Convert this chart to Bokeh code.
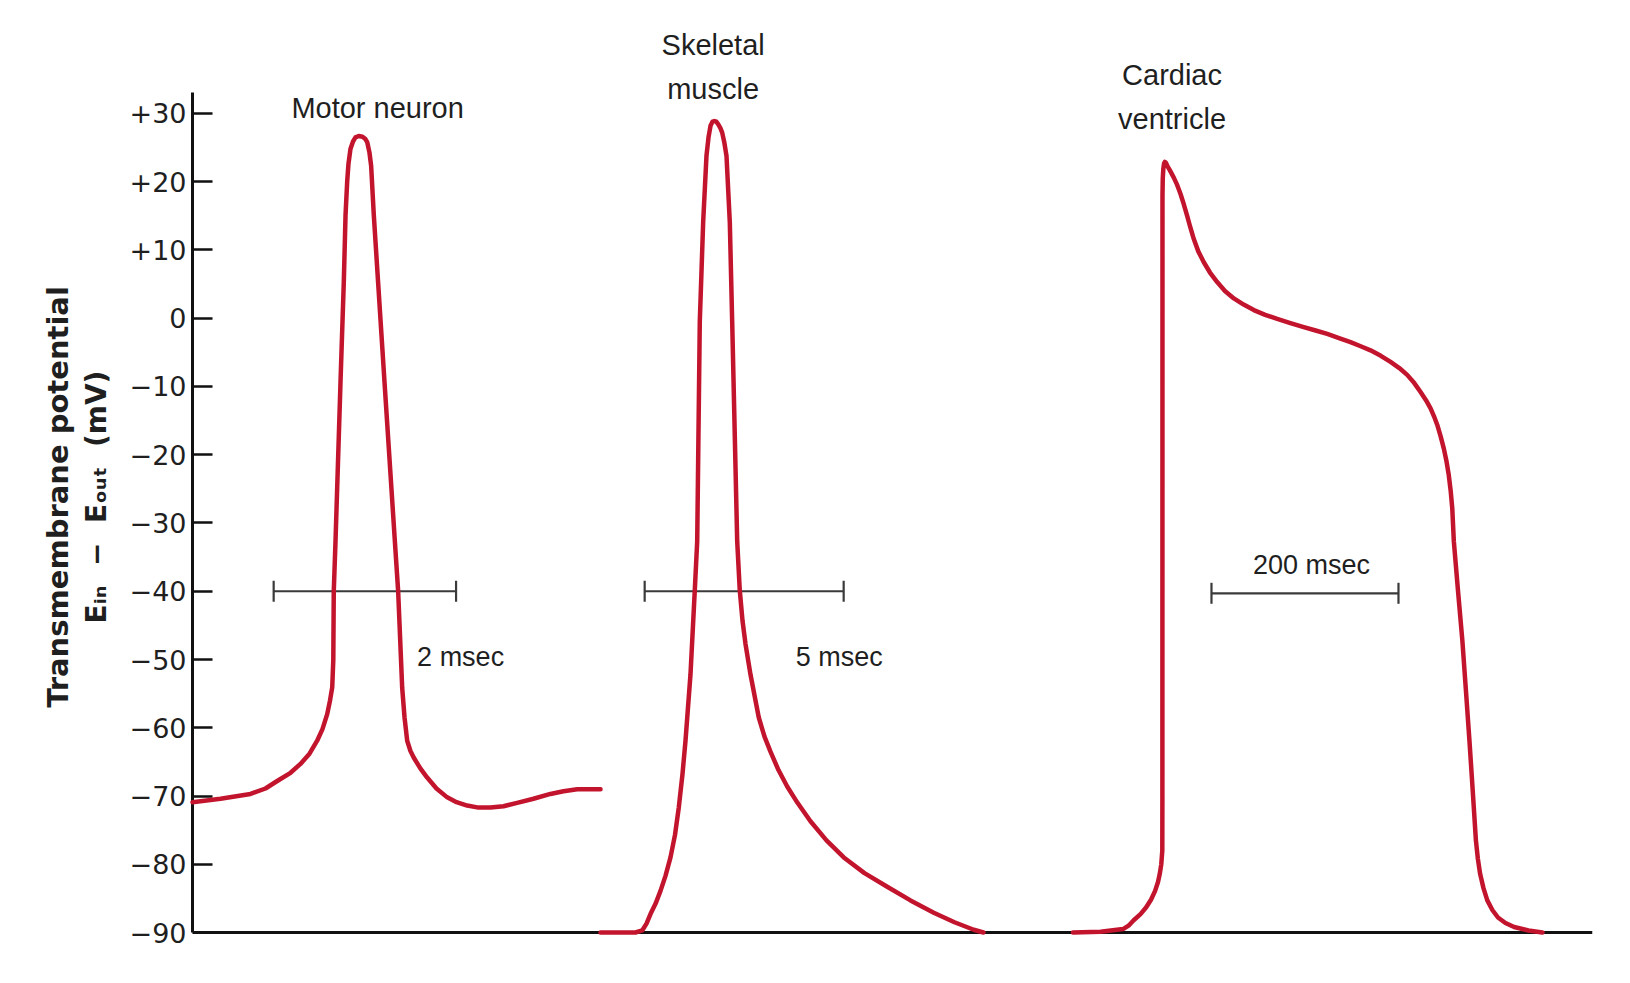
import numpy as np
from bokeh.plotting import figure
from bokeh.models import Range1d, FixedTicker, Span, Label, LinearAxis
from bokeh.embed import file_html
from bokeh.resources import INLINE

# ---------------- data ----------------
# Motor neuron action potential: time (ms), membrane potential (mV)
motor_t = [0.000, 0.307, 0.636, 0.800, 0.929, 1.075, 1.184, 1.283, 1.367, 1.425,
           1.477, 1.508, 1.532, 1.544, 1.549, 1.568, 1.623, 1.659, 1.678, 1.696,
           1.710, 1.732, 1.760, 1.787, 1.823, 1.864, 1.893, 1.916, 1.940, 1.959,
           1.988, 2.035, 2.082, 2.105, 2.219, 2.255, 2.270, 2.299, 2.325, 2.354,
           2.390, 2.427, 2.500, 2.573, 2.675, 2.793, 2.895, 3.012, 3.136, 3.268,
           3.410, 3.560, 3.739, 3.925, 4.068, 4.218, 4.474]
motor_v = [-70.9, -70.4, -69.7, -68.9, -67.8, -66.6, -65.3, -63.8, -61.9, -60.2,
           -58.0, -56.0, -54.1, -50.0, -40.0, -32.7, -9.3, 5.3, 15.1, 20.0,
           22.6, 24.8, 25.9, 26.5, 26.7, 26.6, 26.3, 25.8, 24.3, 22.3,
           15.1, 5.3, -4.5, -9.3, -32.7, -40.0, -44.8, -54.1, -58.5, -61.9,
           -63.4, -64.4, -66.0, -67.3, -68.9, -70.2, -70.9, -71.4, -71.7, -71.7,
           -71.5, -71.0, -70.4, -69.7, -69.3, -69.0, -69.0]

# Skeletal muscle action potential: time (ms), potential (mV)
skel_t = [0.000, 0.879, 1.048, 1.156, 1.256, 1.382, 1.508, 1.633, 1.759, 1.872,
          1.967, 2.060, 2.136, 2.261, 2.369, 2.430, 2.495, 2.580, 2.663, 2.714,
          2.764, 2.814, 2.864, 2.910, 2.960, 3.010, 3.058, 3.110, 3.166, 3.249,
          3.309, 3.435, 3.500, 3.568, 3.643, 3.769, 3.977, 4.121, 4.271, 4.472,
          4.691, 4.950, 5.276, 5.678, 6.113, 6.633, 7.204, 7.789, 8.374, 8.894,
          9.379, 9.623]
skel_v = [-90.0, -90.0, -89.7, -88.7, -87.3, -85.8, -83.9, -81.7, -79.0, -75.7,
          -71.7, -66.8, -61.9, -52.2, -39.9, -32.7, -0.5, 14.1, 23.8, 26.5,
          28.2, 28.8, 28.9, 28.8, 28.4, 27.9, 27.2, 25.8, 23.8, 14.1,
          -0.5, -32.7, -39.9, -44.3, -47.7, -52.2, -58.5, -61.3, -63.5, -66.2,
          -68.6, -71.0, -73.7, -76.5, -79.0, -81.3, -83.3, -85.3, -87.1, -88.5,
          -89.6, -90.0]

# Cardiac ventricle action potential: time (ms), potential (mV)
card_t = [0.0, 29.4, 53.5, 59.4, 64.9, 72.2, 78.3, 83.4, 87.8, 90.9,
          92.8, 94.4, 95.5, 95.6, 95.7, 96.0, 96.6, 97.4, 98.2, 99.3,
          101.0, 103.5, 107.8, 111.5, 115.0, 118.5, 122.1, 125.5, 129.2, 134.0,
          139.9, 146.5, 154.2, 162.5, 172.0, 182.5, 193.4, 205.5, 218.4, 232.5,
          246.8, 259.5, 271.9, 284.5, 296.8, 307.7, 318.2, 329.2, 339.6, 349.0,
          357.4, 365.0, 371.7, 377.5, 382.4, 386.2, 389.5, 393.2, 396.6, 399.5,
          401.9, 404.0, 405.6, 407.3, 411.8, 416.4, 420.2, 424.0, 427.5, 430.9,
          433.0, 435.4, 439.0, 443.1, 448.5, 454.5, 462.5, 471.8, 487.1, 502.1]
card_v = [-90.0, -89.9, -89.5, -89.0, -88.2, -87.3, -86.3, -85.2, -83.9, -82.6,
          -81.4, -80.0, -78.0, -70.0, 18.0, 20.5, 21.9, 22.7, 22.9, 22.8,
          22.3, 21.7, 20.6, 19.5, 18.2, 16.7, 15.0, 13.3, 11.6, 9.8,
          8.2, 6.7, 5.3, 4.0, 2.9, 2.0, 1.2, 0.5, -0.1, -0.7,
          -1.3, -1.8, -2.3, -2.9, -3.5, -4.1, -4.7, -5.5, -6.4, -7.3,
          -8.3, -9.5, -10.8, -12.0, -13.2, -14.4, -15.6, -17.3, -19.1, -21.0,
          -23.0, -25.4, -27.8, -32.7, -40.0, -47.2, -54.5, -61.9, -69.2, -76.5,
          -79.2, -81.4, -83.5, -85.3, -86.7, -87.8, -88.6, -89.2, -89.7, -90.0]

# y axis ticks
tick_values = [-90, -80, -70, -60, -50, -40, -30, -20, -10, 0, 10, 20, 30]
tick_labels = ["\u221290", "\u221280", "\u221270", "\u221260", "\u221250", "\u221240",
               "\u221230", "\u221220", "\u221210", "0", "+10", "+20", "+30"]

# time scale bars (ms, in each trace's own time base)
bar_start = [0.89, 1.11, 148.1]
bar_len = [2, 5, 200]
bar_level = [-40.0, -40.0, -40.3]
bar_text = ["2 msec", "5 msec", "200 msec"]

trace_titles = [["Motor neuron"], ["Skeletal", "muscle"], ["Cardiac", "ventricle"]]

y_title = "Transmembrane potential"
y_title2 = "E\u1d62\u2099\u00a0\u00a0\u2212\u00a0\u00a0E\u2092\u1d64\u209c\u00a0\u00a0(mV)"

# ---------------- styling ----------------
RED = "#c3142d"
INK = "#1f1f1f"
LABEL_FONT = "Liberation Sans"

p = figure(width=1614, height=967, output_backend="svg", toolbar_location=None,
           x_range=Range1d(0, 1400), y_range=Range1d(-95.128, 42.747),
           x_axis_location=None, y_axis_location="left",
           min_border_left=192, min_border_right=22, min_border_top=26,
           min_border_bottom=0, outline_line_color=None,
           background_fill_color="white", border_fill_color="white")
p.grid.visible = False

# each trace has its own time base
p.extra_x_ranges = {
    "motor": Range1d(0, 15.351),
    "skel": Range1d(-10.251, 24.925),
    "card": Range1d(-941.7, 555.6),
}

ax = p.yaxis[0]
ax.ticker = FixedTicker(ticks=tick_values)
ax.major_label_overrides = {v: s for v, s in zip(tick_values, tick_labels)}
ax.bounds = (-90, 33.1)
ax.axis_line_width = 3
ax.axis_line_color = "#111111"
ax.major_tick_in = 20
ax.major_tick_out = 0
ax.major_tick_line_width = 2.5
ax.major_tick_line_color = "#111111"
ax.minor_tick_line_color = None
ax.major_label_text_font = "DejaVu Sans"
ax.major_label_text_font_size = "27px"
ax.major_label_text_color = INK
ax.major_label_standoff = 6
ax.axis_label = y_title2
ax.axis_label_text_font = "DejaVu Sans"
ax.axis_label_text_font_style = "bold"
ax.axis_label_text_font_size = "28px"
ax.axis_label_text_color = INK
ax.axis_label_standoff = 14

outer = LinearAxis(ticker=FixedTicker(ticks=[]), axis_line_color=None,
                   major_tick_line_color=None, minor_tick_line_color=None,
                   major_label_text_font_size="0px",
                   axis_label=y_title, axis_label_text_font="DejaVu Sans",
                   axis_label_text_font_style="bold", axis_label_text_font_size="29px",
                   axis_label_text_color=INK, axis_label_standoff=2)
p.add_layout(outer, "left")

# baseline (-90 mV)
p.add_layout(Span(location=-90, dimension="width", line_color="#111111", line_width=3))

ranges = ["motor", "skel", "card"]

# scale bars
for rn, s, L, yv in zip(ranges, bar_start, bar_len, bar_level):
    p.segment(x0=[s], x1=[s + L], y0=[yv], y1=[yv], x_range_name=rn,
              line_color="#3a3a3a", line_width=2.2)
    p.scatter(x=[s, s + L], y=[yv, yv], x_range_name=rn, marker="dash",
              angle=np.pi / 2, size=21, line_color="#3a3a3a", line_width=2.2)

# traces
for rn, tt, vv in zip(ranges, [motor_t, skel_t, card_t], [motor_v, skel_v, card_v]):
    p.line(tt, vv, x_range_name=rn, line_color=RED, line_width=4.5,
           line_join="round", line_cap="round", level="overlay")

# trace titles
title_pos = [(2.03, [30.8]), (2.83, [40.0, 33.6]), (105.9, [35.6, 29.2])]
for rn, (xc, ys), lines in zip(ranges, title_pos, trace_titles):
    for yb, txt in zip(ys, lines):
        p.add_layout(Label(x=xc, y=yb, x_range_name=rn, text=txt,
                           text_align="center", text_baseline="alphabetic",
                           text_font=LABEL_FONT, text_font_size="29px",
                           text_color=INK))

# scale bar texts
bar_text_pos = [(2.94, -49.7), (6.0, -49.7), (255.0, -36.1)]
for rn, (xc, yb), txt in zip(ranges, bar_text_pos, bar_text):
    p.add_layout(Label(x=xc, y=yb, x_range_name=rn, text=txt,
                       text_align="center", text_baseline="alphabetic",
                       text_font=LABEL_FONT, text_font_size="27px",
                       text_color=INK))

open("out.html", "w").write(file_html(p, INLINE))
